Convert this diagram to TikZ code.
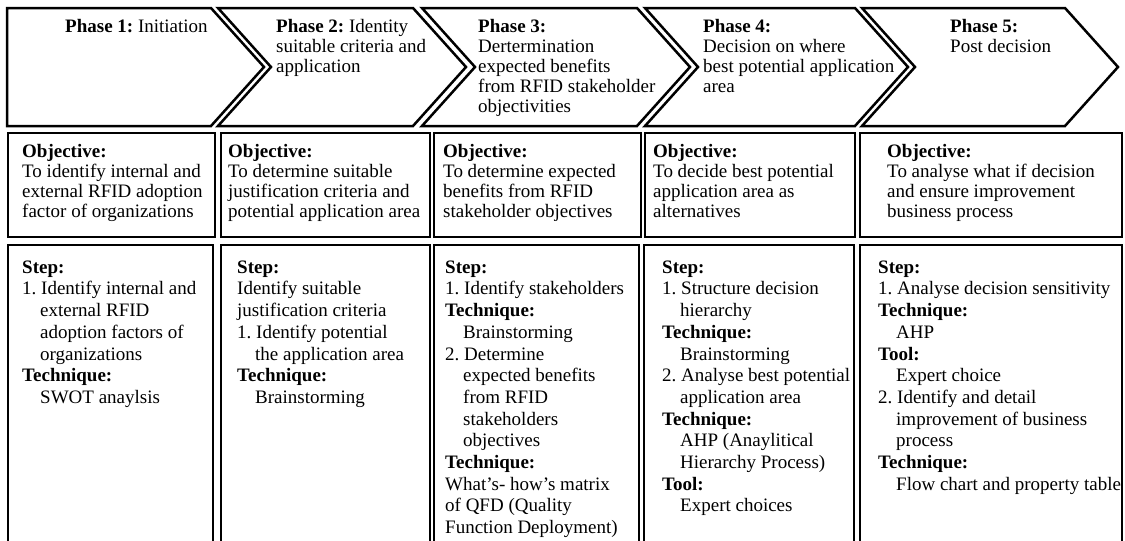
\documentclass[tikz,border=0pt]{standalone}
\usepackage{fontspec}
\setmainfont{Liberation Serif}
\frenchspacing
\newcommand{\myind}{\hspace*{18pt}}
\newcommand{\firstln}{\rule{0pt}{15pt}}
\begin{document}
\begin{tikzpicture}[x=1pt,y=-1pt,
  outline/.style={draw=black,line width=2.5pt,line join=miter},
  txt/.style={anchor=north west,inner sep=0pt,align=left,font=\fontsize{19}{20}\selectfont\frenchspacing},
  txtb/.style={anchor=north west,inner sep=0pt,align=left,font=\fontsize{19}{21.7}\selectfont\frenchspacing}]
\useasboundingbox[fill=white] (0,0) rectangle (1125,541);

% Row 1: phase chevrons
\draw[outline] (7,8) -- (211,8) -- (264,67) -- (211,126) -- (7,126) -- cycle;
\draw[outline] (218,8) -- (413,8) -- (466,67) -- (413,126) -- (218,126) -- (271,67) -- cycle;
\draw[outline] (422,8) -- (637,8) -- (690,67) -- (637,126) -- (422,126) -- (475,67) -- cycle;
\draw[outline] (645,8) -- (855,8) -- (908,67) -- (855,126) -- (645,126) -- (698,67) -- cycle;
\draw[outline] (862,8) -- (1065,8) -- (1118,67) -- (1065,126) -- (862,126) -- (915,67) -- cycle;

% Row 2: objective boxes
\draw[outline] (8,133) rectangle (215,237);
\draw[outline] (221,133) rectangle (430,237);
\draw[outline] (434,133) rectangle (641,237);
\draw[outline] (645,133) rectangle (855,237);
\draw[outline] (860,133) rectangle (1122,237);

% Row 3: step boxes (run past the bottom edge)
\draw[outline] (8,560) -- (8,245) -- (213,245) -- (213,560);
\draw[outline] (221,560) -- (221,245) -- (430,245) -- (430,560);
\draw[outline] (434,560) -- (434,245) -- (639,245) -- (639,560);
\draw[outline] (644,560) -- (644,245) -- (854,245) -- (854,560);
\draw[outline] (860,560) -- (860,245) -- (1122,245) -- (1122,560);

% Row 1 texts (first baseline at y=32)
\node[txt] (p1) at (65,17) {\firstln\textbf{Phase 1:} Initiation};
\node[txt] (p2) at (276,17) {\firstln\textbf{Phase 2:} Identity\\suitable criteria and\\application};
\node[txt] (p3) at (478,17) {\firstln\textbf{Phase 3:}\\Dertermination\\expected benefits\\from RFID stakeholder\\objectivities};
\node[txt] (p4) at (703,17) {\firstln\textbf{Phase 4:}\\Decision on where\\best potential application\\area};
\node[txt] (p5) at (950,17) {\firstln\textbf{Phase 5:}\\Post decision};

% Row 2 texts (first baseline at y=157)
\node[txt] (o1) at (22,142) {\firstln\textbf{Objective:}\\To identify internal and\\external RFID adoption\\factor of organizations};
\node[txt] (o2) at (228,142) {\firstln\textbf{Objective:}\\To determine suitable\\justification criteria and\\potential application area};
\node[txt] (o3) at (443,142) {\firstln\textbf{Objective:}\\To determine expected\\benefits from RFID\\stakeholder objectives};
\node[txt] (o4) at (653,142) {\firstln\textbf{Objective:}\\To decide best potential\\application area as\\alternatives};
\node[txt] (o5) at (887,142) {\firstln\textbf{Objective:}\\To analyse what if decision\\and ensure improvement\\business process};

% Row 3 texts (first baseline at y=273)
\node[txtb] (s1) at (22,258) {\firstln\textbf{Step:}\\1. Identify internal and\\\myind external RFID\\\myind adoption factors of\\\myind organizations\\\textbf{Technique:}\\\myind SWOT anaylsis};
\node[txtb] (s2) at (237,258) {\firstln\textbf{Step:}\\Identify suitable\\justification criteria\\1. Identify potential\\\myind the application area\\\textbf{Technique:}\\\myind Brainstorming};
\node[txtb] (s3) at (445,258) {\firstln\textbf{Step:}\\1. Identify stakeholders\\\textbf{Technique:}\\\myind Brainstorming\\2. Determine\\\myind expected benefits\\\myind from RFID\\\myind stakeholders\\\myind objectives\\\textbf{Technique:}\\What's- how's matrix\\of QFD (Quality\\Function Deployment)};
\node[txtb] (s4) at (662,258) {\firstln\textbf{Step:}\\1. Structure decision\\\myind hierarchy\\\textbf{Technique:}\\\myind Brainstorming\\2. Analyse best potential\\\myind application area\\\textbf{Technique:}\\\myind AHP (Anaylitical\\\myind Hierarchy Process)\\\textbf{Tool:}\\\myind Expert choices};
\node[txtb] (s5) at (878,258) {\firstln\textbf{Step:}\\1. Analyse decision sensitivity\\\textbf{Technique:}\\\myind AHP\\\textbf{Tool:}\\\myind Expert choice\\2. Identify and detail\\\myind improvement of business\\\myind process\\\textbf{Technique:}\\\myind Flow chart and property table};
\end{tikzpicture}
\end{document}
